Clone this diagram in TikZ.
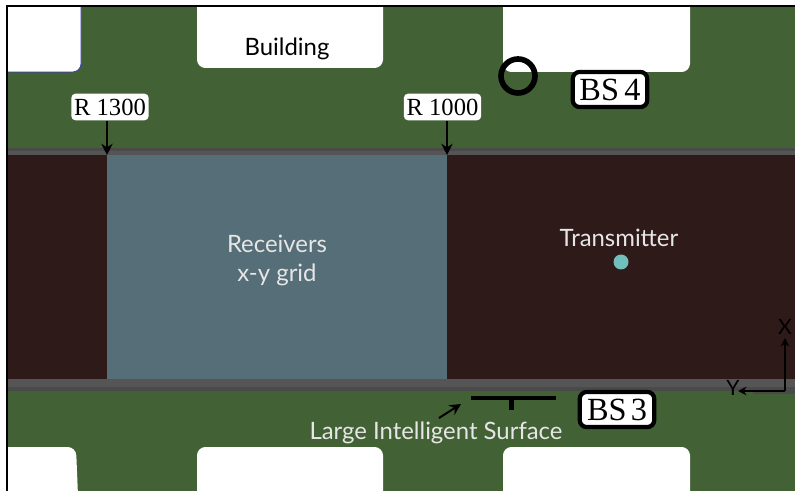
\documentclass[tikz,border=0pt]{standalone}
\usepackage{fontspec}
\setmainfont{Liberation Serif}
\newfontfamily\labelfont{Lato}
\usepackage{xcolor}
\usetikzlibrary{arrows.meta,calc,positioning}
\definecolor{ground}{HTML}{426135}
\definecolor{street}{HTML}{2E1A18}
\definecolor{gridblue}{HTML}{566E78}
\definecolor{curbgray}{HTML}{555555}
\definecolor{curbdark}{HTML}{4A4A4A}
\definecolor{lighttext}{HTML}{E6E6E6}
\definecolor{txdot}{HTML}{70BFBD}
\tikzset{
  bsbox/.style={draw=black,fill=white,line width=3pt,rounded corners=5pt,inner sep=0pt,minimum width=53pt,minimum height=25pt,font=\fontsize{23}{25}\selectfont},
  rbox/.style={fill=white,rounded corners=3pt,inner sep=0pt,minimum width=55pt,minimum height=19pt,font=\fontsize{17.5}{19}\selectfont},
  maptext/.style={font=\labelfont\fontsize{17}{20}\selectfont,align=center,inner sep=0pt},
  axistext/.style={font=\labelfont\fontsize{15}{17}\selectfont,inner sep=0pt},
  pointer/.style={-{Stealth[length=8pt,width=8pt]},line width=1.6pt},
  axisarrow/.style={-{Stealth[length=6pt,width=6pt]},line width=1.2pt}
}
\begin{document}
\begin{tikzpicture}[x=0.025cm,y=-0.025cm]
\useasboundingbox (0,0) rectangle (795,491);
% ground and streets
\fill[ground] (8,7) rectangle (795,491);
\fill[curbgray] (8,148) rectangle (795,155);
\fill[curbdark] (8,148) rectangle (795,151);
\fill[curbgray] (8,379) rectangle (795,387);
\fill[curbdark] (8,387) rectangle (795,391);
\fill[curbdark] (753,391) rectangle (795,394);
\fill[street] (8,155) rectangle (795,379);
\fill[gridblue] (107,155) rectangle (447,379);
% buildings
\fill[white] (-20,-20) -- (-20,72) [rounded corners=6pt] -- (81,72) -- (81,-20) [sharp corners] -- cycle;
\draw[blue!55!gray,line width=0.5pt,rounded corners=6pt] (8,72) -- (81,72) -- (81,7);
\fill[white] (197,-20) [rounded corners=6pt] -- (197,68) -- (383,68) -- (383,-20) [sharp corners] -- cycle;
\fill[white] (503,-20) [rounded corners=6pt] -- (503,72) -- (690,72) -- (690,-20) [sharp corners] -- cycle;
\fill[white] (-20,520) -- (-20,447) [rounded corners=6pt] -- (76,447) -- (79,520) [sharp corners] -- cycle;
\fill[white] (197,520) [rounded corners=6pt] -- (197,447) -- (383,447) -- (383,520) [sharp corners] -- cycle;
\fill[white] (503,520) [rounded corners=6pt] -- (503,447) -- (690,447) -- (690,520) [sharp corners] -- cycle;
\fill[white] (0,-20) rectangle (795,5);
% frame
\draw[line width=1.6pt] (7,491) -- (7,6) -- (795,6);
% labels
\node[maptext,text=black] (building) at (287,49) {Building};
\node[maptext,text=lighttext] (receivers) at (277,260.5) {Receivers\\x-y grid};
\node[maptext,text=lighttext] (transmitter) at (619,238) {Transmitter};
\fill[txdot] (621,262) circle (7.5);
\node[rbox] (r1300) at (110,107) {R 1300};
\node[rbox] (r1000) at (442.5,107) {R 1000};
\coordinate (r1300end) at (107,155);
\coordinate (r1000end) at (447,155);
\draw[pointer] (r1300.south -| r1300end) -- (r1300end);
\draw[pointer] (r1000.south -| r1000end) -- (r1000end);
\draw[line width=4pt] (518,76) circle (17);
\node[bsbox] (bs4) at (610,89.5) {BS\,4};
\node[bsbox] (bs3) at (617,409.5) {BS\hspace{3pt}3};
% surface
\draw[line width=3.4pt] (471,398) -- (556,398);
\draw[line width=3.4pt] (511.5,398) -- (511.5,410);
\node[maptext,text=lighttext] (surface) at (436,433) {Large Intelligent Surface};
\coordinate (surfstart) at (439,418);
\coordinate (surfend) at (461,404);
\draw[pointer,line width=1.4pt] (surfstart) -- (surfend);
% axes
\coordinate (origin) at (785,391);
\coordinate (xend) at (785,338);
\coordinate (yend) at (738,391);
\draw[axisarrow] (origin) -- (xend);
\draw[axisarrow] (origin) -- (yend);
\node[axistext] (xlabel) at (785,327) {X};
\node[axistext] (ylabel) at (733,388) {Y};
\end{tikzpicture}
\end{document}
